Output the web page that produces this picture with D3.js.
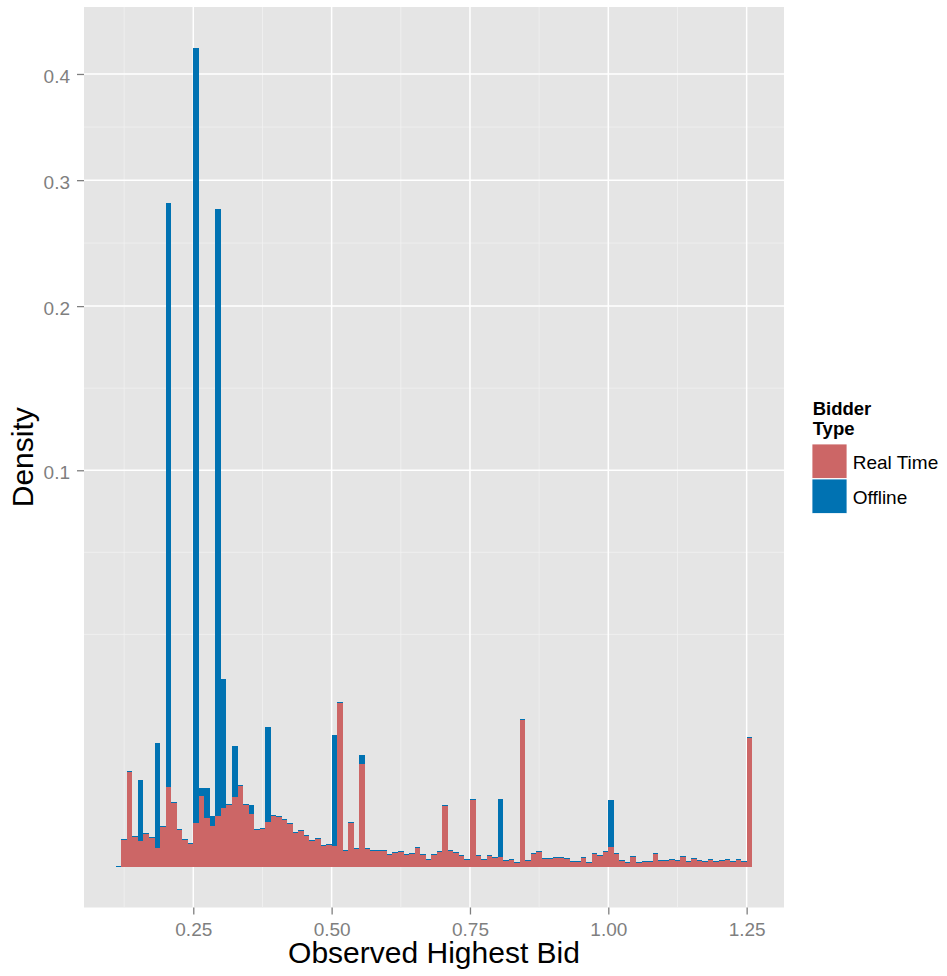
<!DOCTYPE html>
<html>
<head>
<meta charset="utf-8">
<script src="https://cdn.jsdelivr.net/npm/d3@7"></script>
<style>
  html, body { margin: 0; padding: 0; background: #ffffff; }
  svg { display: block; }
  text { font-family: "Liberation Sans", Arial, Helvetica, sans-serif; }
</style>
</head>
<body>
<svg id="chart" width="947" height="976"></svg>
<script>
// ---------------- data ----------------
// lower edge of each histogram bin (bin width 0.01)
const bins = [
  0.11, 0.12, 0.13, 0.14, 0.15, 0.16, 0.17, 0.18, 0.19, 0.20,
  0.21, 0.22, 0.23, 0.24, 0.25, 0.26, 0.27, 0.28, 0.29, 0.30,
  0.31, 0.32, 0.33, 0.34, 0.35, 0.36, 0.37, 0.38, 0.39, 0.40,
  0.41, 0.42, 0.43, 0.44, 0.45, 0.46, 0.47, 0.48, 0.49, 0.50,
  0.51, 0.52, 0.53, 0.54, 0.55, 0.56, 0.57, 0.58, 0.59, 0.60,
  0.61, 0.62, 0.63, 0.64, 0.65, 0.66, 0.67, 0.68, 0.69, 0.70,
  0.71, 0.72, 0.73, 0.74, 0.75, 0.76, 0.77, 0.78, 0.79, 0.80,
  0.81, 0.82, 0.83, 0.84, 0.85, 0.86, 0.87, 0.88, 0.89, 0.90,
  0.91, 0.92, 0.93, 0.94, 0.95, 0.96, 0.97, 0.98, 0.99, 1.00,
  1.01, 1.02, 1.03, 1.04, 1.05, 1.06, 1.07, 1.08, 1.09, 1.10,
  1.11, 1.12, 1.13, 1.14, 1.15, 1.16, 1.17, 1.18, 1.19, 1.20,
  1.21, 1.22, 1.23, 1.24, 1.25
];
const binWidth = 0.01;

// density of the "Real Time" group per bin
const realTime = [
  0, 0.000461, 0.005688, 0.000554, 0.000404, 0.000673, 0.000517, 0.000211, 0.000994, 0.003995,
  0.002568, 0.000849, 0.000447, 0.000322, 0.001189, 0.003139, 0.001498, 0.001045, 0.001605, 0.002157,
  0.002440, 0.003050, 0.004128, 0.002409, 0.001736, 0.000849, 0.000896, 0.001244, 0.001650, 0.001561,
  0.001377, 0.001150, 0.000715, 0.000803, 0.000608, 0.000414, 0.000471, 0.000268, 0.000294, 0.000260,
  0.016964, 0.000153, 0.001205, 0.000195, 0.006653, 0.000195, 0.000153, 0.000153, 0.000153, 0.0000842,
  0.000116, 0.000134, 0.0000842, 0.0000995, 0.000218, 0.0000902, 0.0000269, 0.0000902, 0.000134, 0.002362,
  0.000153, 0.000116, 0.0000757, 0.0000269, 0.002851, 0.0000757, 0.0000269, 0.0000757, 0.0000505, 0.0000539,
  0.0000193, 0.0000269, 0.0000078, 0.013670, 0.0000193, 0.000106, 0.000134, 0.0000358, 0.0000358, 0.0000460,
  0.0000460, 0.0000358, 0.0000129, 0.0000129, 0.0000460, 0.0000078, 0.0000995, 0.0000702, 0.000134, 0.000235,
  0.000106, 0.0000193, 0.0000078, 0.0000575, 0.0000078, 0.0000129, 0.0000129, 0.0000995, 0.0000193, 0.0000193,
  0.0000269, 0.0000193, 0.0000575, 0.0000129, 0.0000358, 0.0000193, 0.0000129, 0.0000269, 0.0000129, 0.0000193,
  0.0000269, 0.0000129, 0.0000269, 0.0000129, 0.010517
];

// density of the "Offline" group per bin
const offline = [
  0, 0, 0, 0, 0.002370, 0, 0, 0.007022, 0, 0.217231,
  0, 0, 0, 0, 0.382858, 0.0000408, 0.000562, 0.0000599, 0.234679, 0.010599,
  0, 0.001657, 0, 0, 0.0000516, 0, 0, 0.005748, 0, 0,
  0, 0, 0, 0, 0, 0, 0, 0, 0, 0.007848,
  0, 0, 0, 0, 0.0000516, 0, 0, 0, 0, 0,
  0, 0, 0, 0, 0, 0, 0, 0, 0, 0,
  0, 0, 0, 0, 0, 0, 0, 0, 0, 0.002143,
  0, 0, 0, 0, 0, 0, 0, 0, 0, 0,
  0, 0, 0, 0, 0, 0, 0, 0, 0, 0.001407,
  0, 0, 0, 0, 0, 0, 0, 0, 0, 0,
  0, 0, 0, 0, 0, 0, 0, 0, 0, 0,
  0, 0, 0, 0, 0
];

const seriesNames = ["Real Time", "Offline"];
const seriesColors = ["#CC6666", "#0072B2"];
const xTicks = [0.25, 0.50, 0.75, 1.00, 1.25];
const xTickLabels = ["0.25", "0.50", "0.75", "1.00", "1.25"];
const yTicks = [0.1, 0.2, 0.3, 0.4];
const yTickLabels = ["0.1", "0.2", "0.3", "0.4"];
const xTitle = "Observed Highest Bid";
const yTitle = "Density";
const legendTitle = ["Bidder", "Type"];

// ---------------- layout ----------------
const panel = { left: 84, right: 784, top: 7, bottom: 907.5 };
const svg = d3.select("#chart");
svg.append("rect").attr("width", 947).attr("height", 976).attr("fill", "#ffffff");

// rows: stacking happens in the sqrt-transformed space (as ggplot does)
const rows = bins.map((b, i) => {
  const sRed = Math.sqrt(realTime[i]);
  const sTot = sRed + Math.sqrt(offline[i]);
  return { x0: b, x1: b + binWidth, red: realTime[i], total: sTot * sTot };
});

// x scale with 5% expansion
const xMin = d3.min(bins), xMax = d3.max(bins) + binWidth;
const xPad = (xMax - xMin) * 0.05;
const x = d3.scaleLinear().domain([xMin - xPad, xMax + xPad]).range([panel.left, panel.right]);

// y: square-root scale with 5% expansion in transformed space
const sMax = d3.max(rows, d => Math.sqrt(d.total));
const sPad = sMax * 0.05;
const y = d3.scaleSqrt()
  .domain([-(sPad * sPad), (sMax + sPad) * (sMax + sPad)])
  .range([panel.bottom, panel.top]);
const ys = s => y(s < 0 ? -(s * s) : s * s);  // position from transformed value

// panel background
svg.append("rect")
  .attr("x", panel.left).attr("y", panel.top)
  .attr("width", panel.right - panel.left).attr("height", panel.bottom - panel.top)
  .attr("fill", "#E5E5E5");

// minor breaks (ggplot regular_minor_breaks in transformed space)
function minorBreaks(major, lo, hi) {
  const bd = major[1] - major[0];
  let b = major.slice();
  if (lo < b[0]) b = [b[0] - bd].concat(b);
  if (hi > b[b.length - 1]) b = b.concat([b[b.length - 1] + bd]);
  const out = [];
  for (let i = 0; i < b.length; i++) {
    out.push(b[i]);
    if (i < b.length - 1) out.push((b[i] + b[i + 1]) / 2);
  }
  return out.filter(v => v >= lo && v <= hi && !major.some(m => Math.abs(m - v) < 1e-9));
}
const xDom = x.domain();
const xMinor = minorBreaks(xTicks, xDom[0], xDom[1]);
const sLo = -sPad, sHi = sMax + sPad;
const yMinorS = minorBreaks(yTicks.map(Math.sqrt), sLo, sHi);

const grid = svg.append("g");
grid.selectAll(".xminor").data(xMinor).enter().append("line")
  .attr("x1", d => x(d)).attr("x2", d => x(d))
  .attr("y1", panel.top).attr("y2", panel.bottom)
  .attr("stroke", "#F2F2F2").attr("stroke-width", 0.75);
grid.selectAll(".yminor").data(yMinorS).enter().append("line")
  .attr("x1", panel.left).attr("x2", panel.right)
  .attr("y1", d => ys(d)).attr("y2", d => ys(d))
  .attr("stroke", "#F2F2F2").attr("stroke-width", 0.75);
grid.selectAll(".xmajor").data(xTicks).enter().append("line")
  .attr("x1", d => x(d)).attr("x2", d => x(d))
  .attr("y1", panel.top).attr("y2", panel.bottom)
  .attr("stroke", "#ffffff").attr("stroke-width", 1.5);
grid.selectAll(".ymajor").data(yTicks).enter().append("line")
  .attr("x1", panel.left).attr("x2", panel.right)
  .attr("y1", d => y(d)).attr("y2", d => y(d))
  .attr("stroke", "#ffffff").attr("stroke-width", 1.5);

// bars
const bars = svg.append("g").attr("shape-rendering", "crispEdges");
bars.selectAll(".red").data(rows).enter().append("rect")
  .attr("x", d => x(d.x0))
  .attr("width", d => x(d.x1) - x(d.x0))
  .attr("y", d => y(d.red))
  .attr("height", d => y(0) - y(d.red))
  .attr("fill", seriesColors[0]);
bars.selectAll(".blue").data(rows).enter().append("rect")
  .attr("x", d => x(d.x0))
  .attr("width", d => x(d.x1) - x(d.x0))
  .attr("y", d => Math.min(y(d.total), y(d.red) - 1))
  .attr("height", d => Math.max(y(d.red) - y(d.total), 1))
  .attr("fill", seriesColors[1]);

// axes
const axisColor = "#7F7F7F";
const gx = svg.append("g").attr("transform", `translate(0,${panel.bottom})`)
  .call(d3.axisBottom(x).tickValues(xTicks).tickFormat((d, i) => xTickLabels[i]).tickSize(7));
gx.select(".domain").remove();
gx.selectAll(".tick line").attr("stroke", axisColor).attr("stroke-width", 1.3);
gx.selectAll(".tick text").attr("fill", axisColor).attr("font-size", 19)
  .attr("y", 28.5).attr("dy", 0)
  .style("font-family", '"Liberation Sans", Arial, Helvetica, sans-serif');

const gy = svg.append("g").attr("transform", `translate(${panel.left},0)`)
  .call(d3.axisLeft(y).tickValues(yTicks).tickFormat((d, i) => yTickLabels[i]).tickSize(7));
gy.select(".domain").remove();
gy.selectAll(".tick line").attr("stroke", axisColor).attr("stroke-width", 1.3);
gy.selectAll(".tick text").attr("fill", axisColor).attr("font-size", 19)
  .attr("x", -14).attr("dy", 8.2)
  .style("font-family", '"Liberation Sans", Arial, Helvetica, sans-serif');

// axis titles
svg.append("text")
  .attr("x", (panel.left + panel.right) / 2).attr("y", 963.3)
  .attr("text-anchor", "middle").attr("font-size", 30).attr("fill", "#000")
  .text(xTitle);
svg.append("text")
  .attr("transform", `translate(33.3,${(panel.top + panel.bottom) / 2}) rotate(-90)`)
  .attr("text-anchor", "middle").attr("font-size", 30).attr("fill", "#000")
  .text(yTitle);

// legend
const lg = svg.append("g");
lg.selectAll(".lt").data(legendTitle).enter().append("text")
  .attr("x", 812.7).attr("y", (d, i) => 415 + i * 20)
  .attr("font-size", 18.5).attr("font-weight", "bold").attr("fill", "#000")
  .text(d => d);
const keys = lg.selectAll(".key").data(seriesNames).enter().append("g")
  .attr("transform", (d, i) => `translate(812,${444 + i * 35})`);
keys.append("rect").attr("width", 35).attr("height", 34.5)
  .attr("fill", (d, i) => seriesColors[i])
  .attr("stroke", "#ffffff").attr("stroke-width", 0.8);
keys.append("text").attr("x", 40.7).attr("y", 24.5)
  .attr("font-size", 19).attr("fill", "#000")
  .text(d => d);
</script>
</body>
</html>
